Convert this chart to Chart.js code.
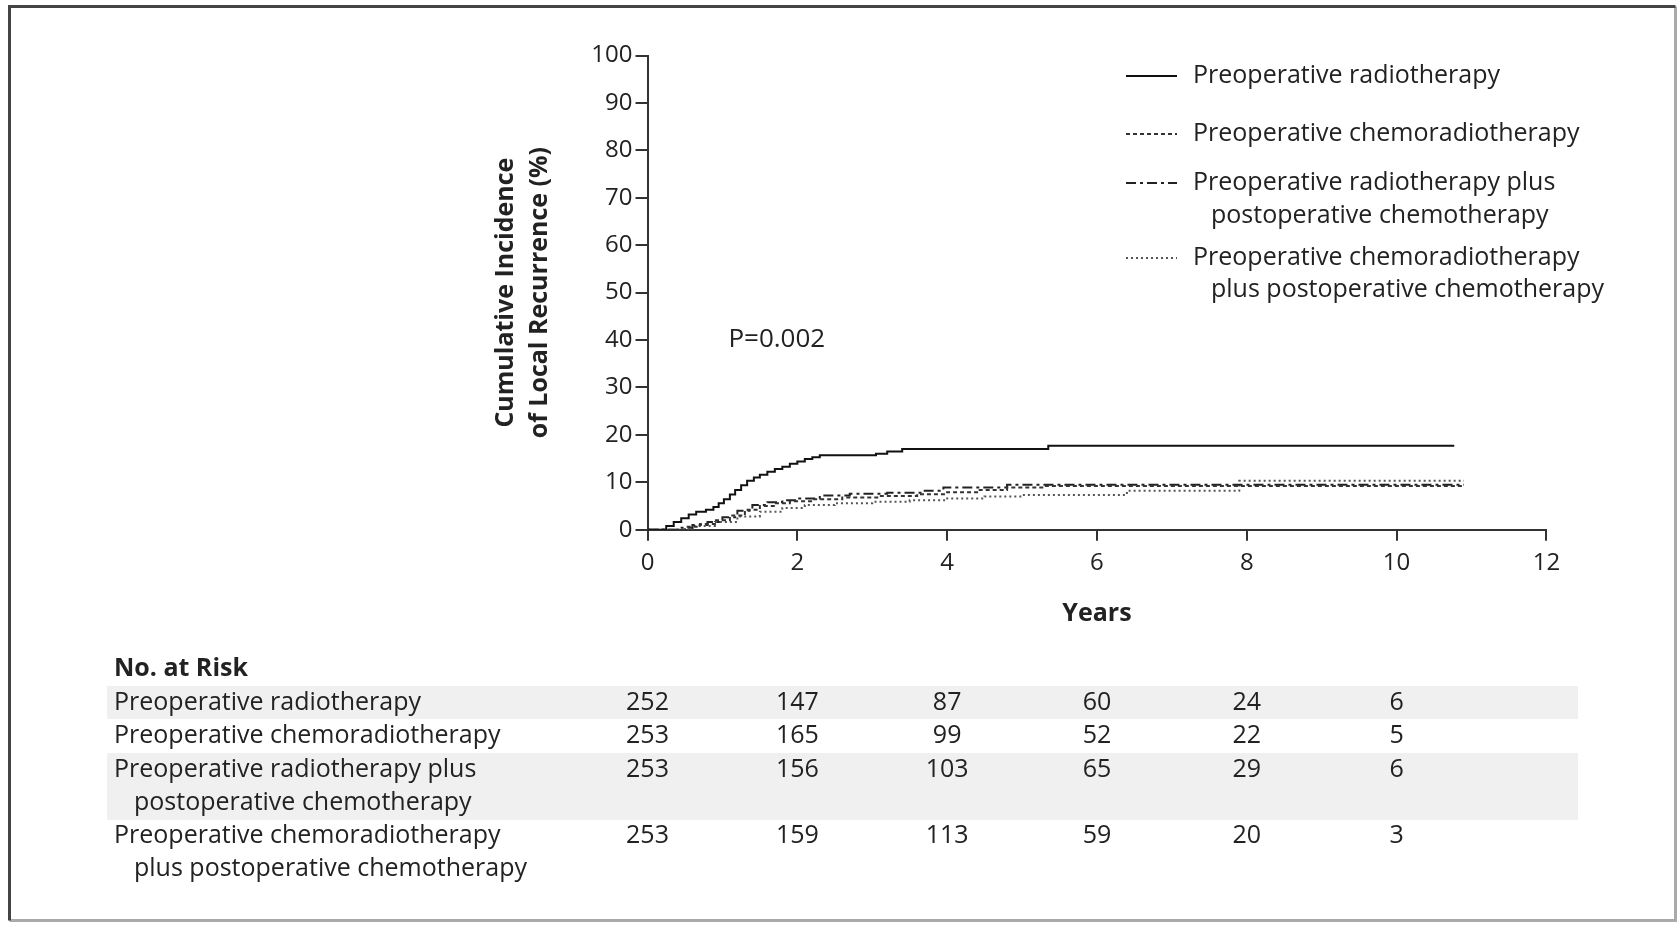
<!DOCTYPE html>
<html>
<head>
<meta charset="utf-8">
<script src="https://cdn.jsdelivr.net/npm/chart.js@4"></script>
<style>
html, body { margin: 0; padding: 0; background: #fff; }
canvas { display: block; }
</style>
</head>
<body>
<canvas id="chart" width="1678" height="925"></canvas>
<script>
// years / cumulative incidence (%)
const radioT = [0, 0.17, 0.25, 0.35, 0.45, 0.55, 0.65, 0.78, 0.88, 0.95, 1.02, 1.1, 1.17, 1.25, 1.33, 1.42, 1.5, 1.6, 1.7, 1.8, 1.9, 2.0, 2.1, 2.2, 2.3, 2.95, 3.05, 3.2, 3.4, 5.35, 10.77];
const radioY = [0, 0, 0.8, 1.6, 2.4, 3.2, 3.8, 4.2, 4.8, 5.6, 6.4, 7.4, 8.4, 9.4, 10.3, 11.0, 11.6, 12.2, 12.8, 13.3, 13.9, 14.4, 14.9, 15.3, 15.7, 15.7, 16.0, 16.5, 17.0, 17.7, 17.7];

const chemoT = [0, 0.3, 0.5, 0.7, 0.9, 1.1, 1.3, 1.5, 1.7, 1.9, 2.2, 2.6, 3.1, 3.6, 4.0, 4.4, 4.8, 5.3, 10.9];
const chemoY = [0, 0, 0.6, 1.2, 2.0, 3.0, 4.2, 5.0, 5.6, 6.0, 6.4, 6.8, 7.1, 7.5, 7.9, 8.4, 8.9, 9.2, 9.2];

const radioPostT = [0, 0.2, 0.4, 0.6, 0.8, 1.0, 1.2, 1.4, 1.6, 1.8, 2.0, 2.3, 2.7, 3.2, 3.7, 3.95, 4.8, 10.9];
const radioPostY = [0, 0, 0.4, 1.0, 1.6, 2.6, 4.0, 5.2, 5.8, 6.2, 6.6, 7.2, 7.6, 7.8, 8.2, 8.9, 9.5, 9.5];

const chemoPostT = [0, 0.3, 0.6, 0.9, 1.2, 1.5, 1.8, 2.1, 2.5, 3.0, 3.5, 4.0, 4.5, 5.0, 6.4, 7.9, 10.9];
const chemoPostY = [0, 0, 0.8, 1.6, 2.8, 3.8, 4.6, 5.2, 5.6, 5.9, 6.2, 6.6, 7.0, 7.3, 8.2, 10.3, 10.3];

const seriesLabels = [
  ['Preoperative radiotherapy'],
  ['Preoperative chemoradiotherapy'],
  ['Preoperative radiotherapy plus', 'postoperative chemotherapy'],
  ['Preoperative chemoradiotherapy', 'plus postoperative chemotherapy']
];

// number at risk
const riskYears = [0, 2, 4, 6, 8, 10];
const riskRadio = [252, 147, 87, 60, 24, 6];
const riskChemo = [253, 165, 99, 52, 22, 5];
const riskRadioPost = [253, 156, 103, 65, 29, 6];
const riskChemoPost = [253, 159, 113, 59, 20, 3];

const pValue = 'P=0.002';

const FONT = '"Open Sans", sans-serif';
const INK = '#222';

function pts(t, y) { return t.map((v, i) => ({ x: v, y: y[i] })); }

const dashes = [[], [4, 3], [10, 4, 3, 4], [2, 3]];
const colors = ['#111', '#333', '#222', '#555'];

const datasets = [
  pts(radioT, radioY), pts(chemoT, chemoY), pts(radioPostT, radioPostY), pts(chemoPostT, chemoPostY)
].map((d, i) => ({
  label: seriesLabels[i].join(' '),
  data: d,
  borderColor: colors[i],
  borderWidth: 2,
  borderDash: dashes[i],
  pointRadius: 0,
  stepped: 'before',
  fill: false
}));

const extras = {
  id: 'extras',
  beforeDraw(chart) {
    const ctx = chart.ctx;
    ctx.save();
    ctx.fillStyle = '#fff';
    ctx.fillRect(0, 0, chart.width, chart.height);
    // shaded table rows
    ctx.fillStyle = '#f0f0f0';
    ctx.fillRect(107, 686, 1471, 33);
    ctx.fillRect(107, 753, 1471, 67);
    // frame
    ctx.lineWidth = 3;
    ctx.strokeStyle = '#aaa';
    ctx.beginPath();
    ctx.moveTo(1675.5, 6.5); ctx.lineTo(1675.5, 920.5); ctx.lineTo(9.5, 920.5);
    ctx.stroke();
    ctx.strokeStyle = '#444';
    ctx.beginPath();
    ctx.moveTo(9.5, 920.5); ctx.lineTo(9.5, 6.5); ctx.lineTo(1675.5, 6.5);
    ctx.stroke();
    ctx.restore();
  },
  afterDraw(chart) {
    const ctx = chart.ctx;
    const xs = chart.scales.x, ys = chart.scales.y;
    ctx.save();
    ctx.fillStyle = INK;
    ctx.textBaseline = 'middle';

    // y axis title
    ctx.save();
    ctx.translate(0, (ys.top + ys.bottom) / 2);
    ctx.rotate(-Math.PI / 2);
    ctx.font = 'bold 25px ' + FONT;
    ctx.textAlign = 'center';
    ctx.fillText('Cumulative Incidence', 0, 506);
    ctx.fillText('of Local Recurrence (%)', 0, 540);
    ctx.restore();

    // x axis title
    ctx.font = 'bold 25px ' + FONT;
    ctx.textAlign = 'center';
    ctx.fillText('Years', (xs.left + xs.right) / 2, 614);

    // p value
    ctx.font = '26px ' + FONT;
    ctx.textAlign = 'left';
    ctx.fillText(pValue, xs.getPixelForValue(1.08), ys.getPixelForValue(40));

    // legend
    ctx.font = '25px ' + FONT;
    const legRows = [[76], [134], [183, 216], [258, 290]];
    chart.data.datasets.forEach((ds, i) => {
      const y = legRows[i][0];
      ctx.save();
      ctx.strokeStyle = ds.borderColor;
      ctx.lineWidth = 2;
      ctx.setLineDash(ds.borderDash);
      ctx.beginPath();
      ctx.moveTo(1126, y); ctx.lineTo(1177, y);
      ctx.stroke();
      ctx.restore();
      seriesLabels[i].forEach((line, j) => {
        ctx.fillText(line, j === 0 ? 1193 : 1211, legRows[i][j]);
      });
    });

    // number at risk table
    ctx.font = 'bold 25px ' + FONT;
    ctx.fillText('No. at Risk', 114, 669);
    ctx.font = '25px ' + FONT;
    const tableRows = [[703], [736], [769.5, 802.6], [835.8, 869]];
    const riskData = [riskRadio, riskChemo, riskRadioPost, riskChemoPost];
    tableRows.forEach((rows, i) => {
      ctx.textAlign = 'left';
      seriesLabels[i].forEach((line, j) => {
        ctx.fillText(line, j === 0 ? 114 : 134, rows[j]);
      });
      ctx.textAlign = 'center';
      riskData[i].forEach((n, k) => {
        ctx.fillText(String(n), xs.getPixelForValue(riskYears[k]), rows[0]);
      });
    });
    ctx.restore();
  }
};

new Chart(document.getElementById('chart'), {
  type: 'line',
  data: { datasets },
  options: {
    responsive: false,
    animation: false,
    events: [],
    layout: { padding: { left: 480, right: 131.6, top: 55.6, bottom: 0 } },
    plugins: { legend: { display: false }, tooltip: { enabled: false } },
    scales: {
      x: {
        type: 'linear',
        min: 0, max: 12,
        afterFit: s => { s.height = 395.3; },
        border: { display: true, color: '#333', width: 2 },
        grid: { display: true, drawOnChartArea: false, drawTicks: true, tickLength: 11, color: '#333', lineWidth: 2 },
        ticks: { stepSize: 2, padding: 8, color: INK, font: { family: FONT, size: 24 } }
      },
      y: {
        min: 0, max: 100,
        afterFit: s => { s.width = 167.5; },
        border: { display: true, color: '#333', width: 2 },
        grid: { display: true, drawOnChartArea: false, drawTicks: true, tickLength: 12, color: '#333', lineWidth: 2 },
        ticks: { stepSize: 10, padding: 3, color: INK, font: { family: FONT, size: 24 } }
      }
    }
  },
  plugins: [extras]
});
</script>
</body>
</html>
